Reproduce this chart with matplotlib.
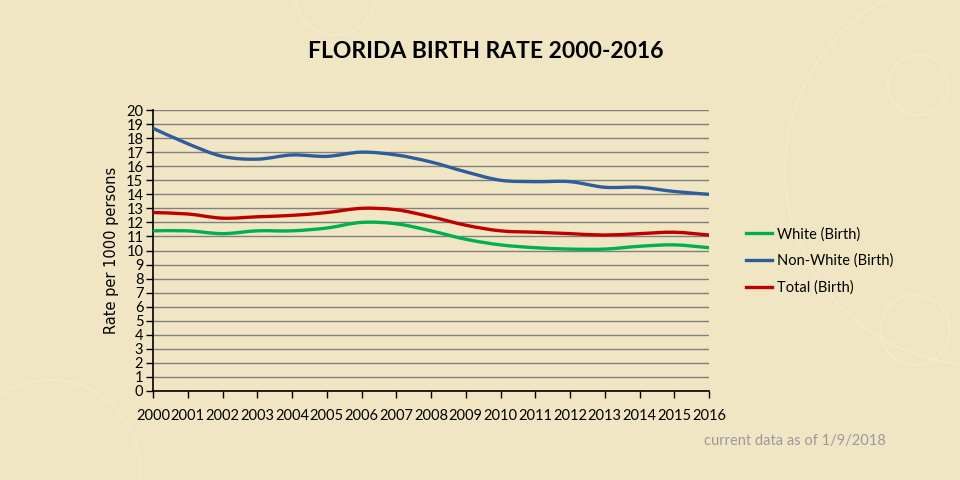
import matplotlib
matplotlib.use("Agg")
import matplotlib.pyplot as plt
from matplotlib.path import Path
from matplotlib.patches import PathPatch, Circle
from matplotlib.lines import Line2D

years = list(range(2000, 2017))
white = [11.4, 11.4, 11.2, 11.4, 11.4, 11.6, 12.0, 11.9, 11.4, 10.8, 10.4, 10.2, 10.1, 10.1, 10.3, 10.4, 10.2]
non_white = [18.7, 17.6, 16.7, 16.5, 16.8, 16.7, 17.0, 16.8, 16.3, 15.6, 15.0, 14.9, 14.9, 14.5, 14.5, 14.2, 14.0]
total = [12.7, 12.6, 12.3, 12.4, 12.5, 12.7, 13.0, 12.9, 12.4, 11.8, 11.4, 11.3, 11.2, 11.1, 11.2, 11.3, 11.1]

series = [
    ("White (Birth)", white, "#00B050"),
    ("Non-White (Birth)", non_white, "#2F5D9C"),
    ("Total (Birth)", total, "#C00000"),
]

bg = "#F0E6C4"
font = ["Lato", "DejaVu Sans"]


def smooth_path(xs, ys):
    # excel style smoothed line: catmull-rom turned into bezier segments
    pts = list(zip(xs, ys))
    verts = [pts[0]]
    codes = [Path.MOVETO]
    n = len(pts)
    for i in range(n - 1):
        p0 = pts[i - 1] if i > 0 else pts[i]
        p1 = pts[i]
        p2 = pts[i + 1]
        p3 = pts[i + 2] if i + 2 < n else pts[i + 1]
        c1 = (p1[0] + (p2[0] - p0[0]) / 6, p1[1] + (p2[1] - p0[1]) / 6)
        c2 = (p2[0] - (p3[0] - p1[0]) / 6, p2[1] - (p3[1] - p1[1]) / 6)
        verts += [c1, c2, p2]
        codes += [Path.CURVE4] * 3
    return Path(verts, codes)


fig = plt.figure(figsize=(9.6, 4.8), dpi=100, facecolor=bg)

# faint decorative rings of the slide background (inches, so they stay round)
for cx, cy, r in [(3.35, 4.85, 0.4), (9.8, 3.1, 1.95), (9.18, 3.95, 0.3), (9.15, 1.5, 0.35), (0.5, 0.1, 0.9)]:
    fig.patches.append(Circle((cx, cy), r, transform=fig.dpi_scale_trans, fill=False,
                              edgecolor="white", alpha=0.22, lw=1.2))

ax = fig.add_axes([153 / 960, 89 / 480, 556 / 960, 281 / 480])
ax.set_facecolor("none")

handles = []
for label, vals, color in series:
    patch = PathPatch(smooth_path(years, vals), facecolor="none", edgecolor=color,
                      lw=2.4, capstyle="round", joinstyle="round", zorder=3)
    ax.add_patch(patch)
    handles.append(Line2D([], [], color=color, lw=2.4, label=label))

ax.set_xlim(2000, 2016)
ax.set_ylim(0, 20)
ax.set_xticks(years)
ax.set_xticklabels([str(y) for y in years], fontfamily=font, fontsize=10.5)
ax.set_yticks(range(0, 21))
ax.set_yticklabels([str(v) for v in range(0, 21)], fontfamily=font, fontsize=10.5)
ax.tick_params(axis="both", direction="out", length=5, width=1, color="black", pad=2)
ax.tick_params(axis="x", pad=8)
ax.yaxis.grid(True, color="#808080", lw=1)
ax.set_axisbelow(True)
for s in ["top", "right"]:
    ax.spines[s].set_visible(False)
for s in ["left", "bottom"]:
    ax.spines[s].set_color("black")
    ax.spines[s].set_linewidth(1.2)

ax.set_ylabel("Rate per 1000 persons", fontfamily="DejaVu Sans", fontsize=10.5, labelpad=5)

fig.text(486 / 960, 1 - 52 / 480, "FLORIDA BIRTH RATE 2000-2016", ha="center", va="center",
         fontfamily=font, fontweight="bold", fontsize=16.5)

fig.legend(handles=handles, loc="upper left", bbox_to_anchor=(733 / 960, 1 - 214 / 480),
           frameon=False, prop={"family": font, "size": 10.5}, handlelength=1.8,
           handletextpad=0.3, labelspacing=0.85)

fig.text(886 / 960, 1 - 441 / 480, "current data as of 1/9/2018", ha="right", va="center",
         fontfamily=font, fontsize=10.5, color="#9A9A9A")

fig.savefig("out.png", dpi=100, facecolor=bg)
